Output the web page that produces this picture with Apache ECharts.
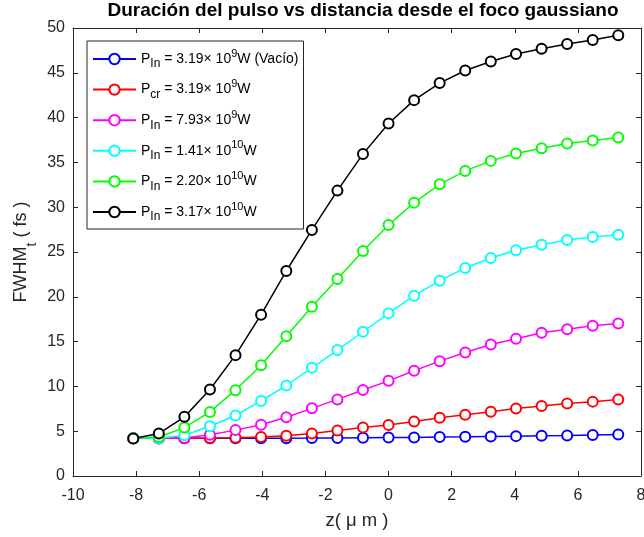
<!DOCTYPE html>
<html>
<head>
<meta charset="utf-8">
<script src="https://cdn.jsdelivr.net/npm/echarts@6/dist/echarts.min.js"></script>
<style>html,body{margin:0;padding:0;background:#fff}#c{width:644px;height:537px}</style>
</head>
<body>
<div id="c"></div>
<script>
const zValues = [-8.09,-7.28,-6.47,-5.66,-4.85,-4.04,-3.24,-2.43,-1.62,-0.81,0,0.81,1.62,2.43,3.24,4.04,4.85,5.66,6.47,7.28];
const blueVals = [4.2,4.2,4.2,4.2,4.2,4.2,4.22,4.23,4.25,4.27,4.29,4.31,4.34,4.37,4.41,4.45,4.49,4.53,4.58,4.64];
const redVals = [4.2,4.2,4.21,4.23,4.26,4.35,4.5,4.75,5.08,5.4,5.7,6.08,6.5,6.84,7.17,7.53,7.8,8.08,8.3,8.54];
const magentaVals = [4.2,4.18,4.25,4.6,5.12,5.72,6.55,7.55,8.55,9.6,10.62,11.74,12.82,13.79,14.68,15.31,15.98,16.39,16.77,17.03];
const cyanVals = [4.2,4.2,4.55,5.55,6.75,8.38,10.1,12.07,14.05,16.1,18.15,20.12,21.8,23.21,24.33,25.19,25.82,26.34,26.68,26.93];
const greenVals = [4.2,4.36,5.4,7.15,9.58,12.37,15.61,18.9,21.98,25.11,28.02,30.51,32.55,34.05,35.17,35.99,36.59,37.1,37.44,37.78];
const blackVals = [4.18,4.74,6.6,9.65,13.49,18.0,22.88,27.46,31.85,35.95,39.34,41.95,43.85,45.26,46.27,47.09,47.69,48.21,48.65,49.18];

const seriesNames = [
  'P_In = 3.19× 10^9W (Vacío)',
  'P_cr = 3.19× 10^9W',
  'P_In = 7.93× 10^9W',
  'P_In = 1.41× 10^10W',
  'P_In = 2.20× 10^10W',
  'P_In = 3.17× 10^10W'
];
const legendRich = [
  '{n|P}{sub|In}{n| = 3.19× 10}{sup|9}{n|W (Vacío)}',
  '{n|P}{sub|cr}{n| = 3.19× 10}{sup|9}{n|W}',
  '{n|P}{sub|In}{n| = 7.93× 10}{sup|9}{n|W}',
  '{n|P}{sub|In}{n| = 1.41× 10}{sup|10}{n|W}',
  '{n|P}{sub|In}{n| = 2.20× 10}{sup|10}{n|W}',
  '{n|P}{sub|In}{n| = 3.17× 10}{sup|10}{n|W}'
];
const seriesColors = ['#0000ff','#ff0000','#ff00ff','#00ffff','#00ff00','#000000'];
const seriesValues = [blueVals, redVals, magentaVals, cyanVals, greenVals, blackVals];

const titleText = 'Duración del pulso vs distancia desde el foco gaussiano';
const xTicks = {min: -10, max: 8, interval: 2};
const yTicks = {min: 0, max: 50, interval: 5};

const FONT = 'Liberation Sans, Arial, Helvetica, sans-serif';
const axisColor = '#262626';

const chart = echarts.init(document.getElementById('c'), null, {renderer: 'canvas'});

const series = seriesValues.map((vals, i) => ({
  name: seriesNames[i],
  type: 'line',
  data: zValues.map((z, j) => [z, vals[j]]),
  symbol: 'emptyCircle',
  symbolSize: 10,
  showAllSymbol: true,
  color: seriesColors[i],
  lineStyle: {width: 1.5, color: seriesColors[i]},
  itemStyle: {color: seriesColors[i], borderColor: seriesColors[i], borderWidth: 1.5},
  emphasis: {disabled: true},
  animation: false,
  z: 2 + i
}));

const baseAxis = (extra) => Object.assign({
  type: 'value',
  axisLine: {show: true, onZero: false, lineStyle: {color: axisColor, width: 1}},
  axisTick: {show: true, inside: true, length: 5, lineStyle: {color: axisColor}},
  splitLine: {show: false},
  axisLabel: {color: axisColor, fontSize: 16, fontFamily: FONT}
}, extra);

const option = {
  backgroundColor: '#fff',
  animation: false,
  title: {
    text: titleText,
    left: 363,
    textAlign: 'center',
    top: 1,
    padding: 0,
    textStyle: {fontSize: 19, fontWeight: 'bold', color: '#000', fontFamily: FONT}
  },
  grid: {left: 73, top: 28, right: 3, bottom: 61, containLabel: false, outerBoundsMode: 'none'},
  legend: {
    show: true,
    orient: 'vertical',
    left: 87,
    top: 41,
    padding: [7, 5, 6, 5],
    itemGap: 8.6,
    itemWidth: 43,
    itemHeight: 13,
    borderColor: '#262626',
    borderWidth: 1,
    backgroundColor: '#fff',
    data: seriesNames,
    formatter: (name) => legendRich[seriesNames.indexOf(name)],
    textStyle: {
      color: '#000',
      fontFamily: FONT,
      rich: {
        n: {fontSize: 14, lineHeight: 22, color: '#000', fontFamily: FONT, verticalAlign: 'middle'},
        sub: {fontSize: 12, lineHeight: 8, color: '#000', fontFamily: FONT, verticalAlign: 'bottom'},
        sup: {fontSize: 11, lineHeight: 16, color: '#000', fontFamily: FONT, verticalAlign: 'top'}
      }
    }
  },
  xAxis: [
    baseAxis(Object.assign({
      position: 'bottom',
      name: 'z( μ m )',
      nameLocation: 'middle',
      nameGap: 35,
      nameMoveOverlap: false,
      nameTextStyle: {fontSize: 18.5, color: axisColor, fontFamily: FONT},
      axisLabel: {color: axisColor, fontSize: 16, fontFamily: FONT, margin: 12, showMinLabel: true, showMaxLabel: true}
    }, xTicks)),
    baseAxis(Object.assign({position: 'top', axisLabel: {show: false}}, xTicks))
  ],
  yAxis: [
    baseAxis(Object.assign({
      position: 'left',
      name: '{a|FWHM}{b|t}{a| ( fs )}',
      nameLocation: 'middle',
      nameGap: 34,
      nameRotate: 90,
      nameMoveOverlap: false,
      nameTextStyle: {
        color: axisColor,
        fontFamily: FONT,
        rich: {
          a: {fontSize: 18, lineHeight: 36, color: axisColor, fontFamily: FONT, verticalAlign: 'middle'},
          b: {fontSize: 14, lineHeight: 9, color: axisColor, fontFamily: FONT, verticalAlign: 'bottom'}
        }
      },
      axisLabel: {color: axisColor, fontSize: 16, fontFamily: FONT, margin: 8}
    }, yTicks)),
    baseAxis(Object.assign({position: 'right', axisLabel: {show: false}}, yTicks))
  ],
  series: series
};
chart.setOption(option);
</script>
</body>
</html>
